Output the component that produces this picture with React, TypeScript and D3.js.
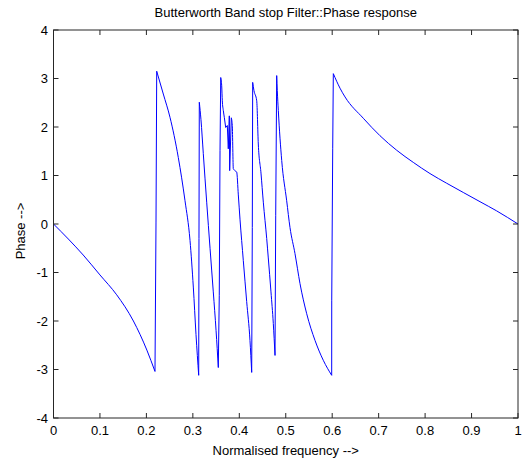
import React from "react";
import * as d3 from "d3";

const freq: number[] = [
  0, 0.032, 0.064, 0.1, 0.136, 0.172, 0.201, 0.2185,
  0.2207, 0.2222,
  0.2364, 0.2508, 0.2687, 0.2831, 0.2939, 0.301, 0.3068, 0.3126,
  0.3132, 0.3139,
  0.3175, 0.3225, 0.3298, 0.337, 0.344, 0.35, 0.3548,
  0.3569, 0.3585, 0.36,
  0.3621, 0.3634, 0.3656, 0.3677, 0.3707, 0.3742, 0.3763, 0.3785, 0.3793,
  0.3828, 0.3849, 0.3871, 0.3907, 0.3944, 0.3979, 0.4015, 0.4086, 0.4159,
  0.423, 0.4267,
  0.428, 0.4288,
  0.4316, 0.4375, 0.4409, 0.4467, 0.4517, 0.459, 0.4624, 0.4682, 0.4732, 0.4769,
  0.4784, 0.4805,
  0.4818, 0.484, 0.4913, 0.502, 0.5091, 0.5199, 0.5307, 0.5451, 0.563, 0.5808, 0.5989,
  0.599, 0.6011, 0.6024,
  0.6168, 0.6276, 0.667, 0.7029, 0.7389, 0.7746, 0.8105, 0.8465, 0.8822, 0.9182, 0.9541, 1.0,
];

const phase: number[] = [
  0, -0.31, -0.64, -1.05, -1.46, -2.0, -2.6, -3.04,
  0.04, 3.15,
  2.68, 2.2, 1.37, 0.48, -0.34, -1.3, -2.28, -3.12,
  -0.3, 2.51,
  2.15, 1.45, 0.45, -0.5, -1.4, -2.2, -2.96,
  -1.47, 1.51, 3.02,
  2.85, 2.54, 2.34, 2.2, 1.99, 2.03, 1.55, 2.23, 1.1,
  2.19, 2.03, 1.14, 1.1, 1.07, 0.6, 0.1, -0.75, -1.6,
  -2.4, -3.06,
  -0.07, 2.92,
  2.75, 2.54, 1.65, 1.05, 0.45, -0.3, -0.7, -1.4, -2.05, -2.71,
  0.17, 3.06,
  2.75, 2.34, 1.31, 0.48, -0.07, -0.61, -1.23, -1.85, -2.4, -2.81, -3.12,
  -1.57, 1.55, 3.1,
  2.8, 2.62, 2.18, 1.82, 1.52, 1.27, 1.04, 0.84, 0.65, 0.46, 0.27, 0,
];

const xTicks: number[] = [0, 0.1, 0.2, 0.3, 0.4, 0.5, 0.6, 0.7, 0.8, 0.9, 1];
const yTicks: number[] = [-4, -3, -2, -1, 0, 1, 2, 3, 4];

const title = "Butterworth Band stop Filter::Phase response";
const xLabel = "Normalised frequency -->";
const yLabel = "Phase -->";

type P = [number, number];

export default function App() {
  const W = 523, H = 461;
  const left = 53.5, right = 518, top = 30, bottom = 418;
  const x = d3.scaleLinear().domain([0, 1]).range([left, right]);
  const y = d3.scaleLinear().domain([-4, 4]).range([bottom, top]);
  const pts: P[] = freq.map((f, i) => [f, phase[i]]);

  // split into falling runs (smooth) and rising pieces (straight)
  const runs: { pts: P[]; smooth: boolean }[] = [];
  for (let i = 0; i < pts.length - 1; i++) {
    const falling = pts[i + 1][1] <= pts[i][1];
    const last = runs[runs.length - 1];
    if (last && last.smooth === falling) last.pts.push(pts[i + 1]);
    else runs.push({ pts: [pts[i], pts[i + 1]], smooth: falling });
  }
  const smoothLine = d3.line<P>().x(d => x(d[0])).y(d => y(d[1])).curve(d3.curveMonotoneX);
  const straightLine = d3.line<P>().x(d => x(d[0])).y(d => y(d[1]));
  const d = runs.map(r => (r.smooth ? smoothLine(r.pts) : straightLine(r.pts)) || "").join(" ");

  const font = "Liberation Sans, Arial, Helvetica, sans-serif";
  const tl = 5;
  return (
    <svg width={W} height={H} style={{ position: "absolute", left: 0, top: 0, background: "#fff" }}>
      <rect x={0} y={0} width={W} height={H} fill="#fff" />
      <path d={d} fill="none" stroke="#0000ff" strokeWidth={1} strokeLinejoin="miter" />
      <rect x={left} y={top} width={right - left} height={bottom - top} fill="none" stroke="#262626" strokeWidth={1} />
      {xTicks.map(t => (
        <g key={"x" + t}>
          <line x1={x(t)} x2={x(t)} y1={bottom} y2={bottom - tl} stroke="#262626" />
          <line x1={x(t)} x2={x(t)} y1={top} y2={top + tl} stroke="#262626" />
          <text x={x(t)} y={435} textAnchor="middle" fontFamily={font} fontSize={13} fill="#000">{String(t)}</text>
        </g>
      ))}
      {yTicks.map(t => (
        <g key={"y" + t}>
          <line x1={left} x2={left + tl} y1={y(t)} y2={y(t)} stroke="#262626" />
          <line x1={right} x2={right - tl} y1={y(t)} y2={y(t)} stroke="#262626" />
          <text x={48} y={y(t) + 4.5} textAnchor="end" fontFamily={font} fontSize={13} fill="#000">{String(t)}</text>
        </g>
      ))}
      <text x={(left + right) / 2} y={17} textAnchor="middle" fontFamily={font} fontSize={13} fill="#000">{title}</text>
      <text x={(left + right) / 2} y={455} textAnchor="middle" fontFamily={font} fontSize={13} fill="#000">{xLabel}</text>
      <text transform={`translate(25,231) rotate(-90)`} textAnchor="middle" fontFamily={font} fontSize={13} fill="#000">{yLabel}</text>
    </svg>
  );
}
